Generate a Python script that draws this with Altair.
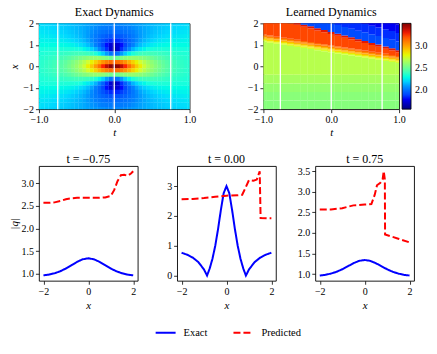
import altair as alt
import pandas as pd

FONT = "Liberation Serif"

# ---------------- exact field ----------------
# |q| of the exact solution read for |t| = 0.00..1.00 step 0.05 (rows)
# and |x| = 0.0..2.0 step 0.2 (cols); the field is symmetric in t and in x.
T_ABS = [0.0, 0.05, 0.1, 0.15, 0.2, 0.25, 0.3, 0.35, 0.4, 0.45, 0.5,
         0.55, 0.6, 0.65, 0.7, 0.75, 0.8, 0.85, 0.9, 0.95, 1.0]
X_ABS = [0.0, 0.2, 0.4, 0.6, 0.8, 1.0, 1.2, 1.4, 1.6, 1.8, 2.0]
EXACT_QUADRANT = [
    [3.000, 2.448, 1.439, 0.639, 0.124, 0.200, 0.408, 0.548, 0.644, 0.713, 0.765],
    [2.948, 2.427, 1.461, 0.693, 0.249, 0.261, 0.429, 0.557, 0.649, 0.717, 0.767],
    [2.810, 2.365, 1.511, 0.818, 0.436, 0.383, 0.481, 0.583, 0.664, 0.726, 0.773],
    [2.624, 2.270, 1.562, 0.959, 0.612, 0.514, 0.552, 0.622, 0.687, 0.740, 0.782],
    [2.424, 2.157, 1.594, 1.081, 0.764, 0.638, 0.631, 0.669, 0.716, 0.758, 0.794],
    [2.236, 2.038, 1.600, 1.174, 0.886, 0.745, 0.707, 0.719, 0.748, 0.780, 0.809],
    [2.068, 1.923, 1.587, 1.238, 0.981, 0.836, 0.778, 0.769, 0.782, 0.803, 0.825],
    [1.924, 1.817, 1.559, 1.276, 1.051, 0.910, 0.840, 0.815, 0.816, 0.827, 0.842],
    [1.802, 1.722, 1.525, 1.295, 1.102, 0.969, 0.893, 0.858, 0.848, 0.851, 0.860],
    [1.699, 1.639, 1.487, 1.302, 1.136, 1.014, 0.937, 0.896, 0.878, 0.874, 0.878],
    [1.612, 1.567, 1.448, 1.299, 1.158, 1.048, 0.974, 0.929, 0.905, 0.896, 0.895],
    [1.539, 1.504, 1.411, 1.290, 1.171, 1.073, 1.002, 0.956, 0.930, 0.916, 0.911],
    [1.478, 1.450, 1.376, 1.278, 1.178, 1.091, 1.025, 0.979, 0.950, 0.934, 0.926],
    [1.425, 1.403, 1.345, 1.264, 1.179, 1.104, 1.043, 0.999, 0.969, 0.950, 0.940],
    [1.380, 1.363, 1.315, 1.249, 1.177, 1.111, 1.056, 1.014, 0.985, 0.965, 0.952],
    [1.342, 1.328, 1.289, 1.234, 1.173, 1.116, 1.066, 1.027, 0.998, 0.977, 0.964],
    [1.308, 1.297, 1.265, 1.220, 1.168, 1.118, 1.073, 1.037, 1.009, 0.988, 0.974],
    [1.279, 1.270, 1.244, 1.206, 1.162, 1.118, 1.078, 1.044, 1.018, 0.998, 0.983],
    [1.254, 1.246, 1.225, 1.193, 1.155, 1.117, 1.081, 1.050, 1.025, 1.005, 0.991],
    [1.232, 1.226, 1.207, 1.180, 1.148, 1.115, 1.083, 1.055, 1.031, 1.012, 0.998],
    [1.213, 1.207, 1.192, 1.169, 1.141, 1.112, 1.083, 1.058, 1.036, 1.018, 1.004],
]

# ---------------- learned field ----------------
T_GRID = [-1.0, -0.9, -0.8, -0.7, -0.6, -0.5, -0.4, -0.3, -0.2, -0.1, 0.0,
          0.1, 0.2, 0.3, 0.4, 0.5, 0.6, 0.7, 0.8, 0.9, 1.0]
# XR = x where the prediction climbs through 3.0, XB = x where it drops to the blue level
LEARNED_XR = [1.35, 1.30, 1.25, 1.20, 1.15, 1.10, 1.05, 1.00, 0.95, 0.90, 0.85,
              0.80, 0.75, 0.70, 0.65, 0.60, 0.55, 0.50, 0.45, 0.40, 0.35]
LEARNED_XB = [2.45, 2.36, 2.28, 2.19, 2.11, 2.03, 1.94, 1.86, 1.77, 1.69, 1.60,
              1.52, 1.43, 1.35, 1.26, 1.18, 1.09, 1.01, 0.92, 0.84, 0.75]
LOW_EDGES = [-2.0, -1.6, -1.2, -0.8, -0.4]
LOW_VALUES = [2.57, 2.58, 2.61, 2.65, 2.69]
RAMP_EDGES = [-0.2, -0.13, -0.07, 0.0, 0.07, 0.13]
RAMP_VALUES = [2.76, 2.86, 2.95, 3.06, 3.15]
RED_VALUE = 3.22
CREST_WIDTH = 0.1
CREST_VALUE = 3.32
BLUE_EDGES = [0.0, 0.4, 0.8, 1.2, 3.0]
BLUE_VALUES = [1.92, 1.86, 1.80, 1.75]

CUT_T = [-0.75, 0.0, 0.75]

# ---------------- slices ----------------
SERIES = ["Exact", "Predicted"]

X_075 = [-2.0, -1.75, -1.5, -1.25, -1.0, -0.75, -0.5, -0.25, 0.0,
         0.25, 0.5, 0.75, 1.0, 1.25, 1.5, 1.75, 2.0]
EXACT_075 = [0.964, 0.981, 1.011, 1.055, 1.116, 1.189, 1.263, 1.320, 1.342,
             1.320, 1.263, 1.189, 1.116, 1.055, 1.011, 0.981, 0.964]

X_000 = [-2.0, -1.75, -1.5, -1.25, -1.0, -0.866, -0.75, -0.625, -0.5, -0.375, -0.25, -0.125, 0.0,
         0.125, 0.25, 0.375, 0.5, 0.625, 0.75, 0.866, 1.0, 1.25, 1.5, 1.75, 2.0]
EXACT_000 = [0.765, 0.698, 0.600, 0.448, 0.200, 0.000, 0.231, 0.561, 1.000, 1.560, 2.200, 2.765, 3.000,
             2.765, 2.200, 1.560, 1.000, 0.561, 0.231, 0.000, 0.200, 0.448, 0.600, 0.698, 0.765]

PRED_M075_X = [-2.0, -1.75, -1.5, -1.25, -1.0, -0.75, -0.5, -0.25, 0.0, 0.25, 0.5, 0.75,
               1.0, 1.15, 1.3, 1.45, 1.6, 1.75, 1.9, 2.0]
PRED_M075 = [2.57, 2.57, 2.58, 2.61, 2.65, 2.67, 2.68, 2.68, 2.68, 2.68, 2.68, 2.69,
             2.72, 2.85, 3.05, 3.18, 3.19, 3.17, 3.22, 3.27]

PRED_000_X = [-2.0, -1.5, -1.0, -0.5, 0.0, 0.5, 0.7, 0.85, 1.0, 1.2, 1.35, 1.48, 1.52, 1.8, 2.0]
PRED_000 = [2.56, 2.57, 2.60, 2.64, 2.68, 2.69, 2.71, 2.95, 3.20, 3.18, 3.22, 3.50, 1.93, 1.92, 1.92]

PRED_P075_X = [-2.0, -1.5, -1.0, -0.5, 0.0, 0.3, 0.45, 0.55, 0.7, 0.8, 0.85, 0.9, 0.91, 1.5, 2.0]
PRED_P075 = [2.57, 2.57, 2.60, 2.67, 2.69, 2.70, 2.93, 3.16, 3.22, 3.30, 3.50, 3.30, 1.96, 1.86, 1.77]

JET = ["#000080", "#0000ff", "#0080ff", "#14ffe2", "#7cff85",
       "#e2ff14", "#ff9700", "#ff2100", "#800000"]


def stops(lo, hi, n):
    return [lo + (hi - lo) * k / (n - 1) for k in range(n)]


# exact table: mirror the read quadrant into all four quadrants
exact_rows = []
for ti, ta in enumerate(T_ABS):
    for xi, xa in enumerate(X_ABS):
        v = EXACT_QUADRANT[ti][xi]
        for st in ([1] if ta == 0 else [-1, 1]):
            for sx in ([1] if xa == 0 else [-1, 1]):
                t, x = st * ta, sx * xa
                exact_rows.append({"t0": t - 0.027, "t1": t + 0.027,
                                   "x0": x - 0.105, "x1": x + 0.105, "v": v})
exact_df = pd.DataFrame(exact_rows)

# learned table: per t column, one cell per x band
learned_rows = []
for t, xr, xb in zip(T_GRID, LEARNED_XR, LEARNED_XB):
    bands = []
    low_top = xr + RAMP_EDGES[0]
    for k, v in enumerate(LOW_VALUES):
        a = LOW_EDGES[k]
        b = LOW_EDGES[k + 1] if k + 1 < len(LOW_EDGES) else low_top
        bands.append((a, min(b, low_top), v))
    for k, v in enumerate(RAMP_VALUES):
        bands.append((xr + RAMP_EDGES[k], xr + RAMP_EDGES[k + 1], v))
    bands.append((xr + RAMP_EDGES[-1], xb - CREST_WIDTH, RED_VALUE))
    bands.append((xb - CREST_WIDTH, xb, CREST_VALUE))
    for k, v in enumerate(BLUE_VALUES):
        bands.append((xb + BLUE_EDGES[k], xb + BLUE_EDGES[k + 1], v))
    for a, b, v in bands:
        if b > a and a < 2.0:
            learned_rows.append({"t0": t - 0.052, "t1": t + 0.052, "x0": a, "x1": b, "v": v})
learned_df = pd.DataFrame(learned_rows)
cuts_df = pd.DataFrame({"t": CUT_T})

TOP_H = 86
BOT_H = 115


def heat(df, title, width, cscale, legend, ytitle):
    rect = alt.Chart(df).mark_rect(clip=True).encode(
        x=alt.X("t0:Q", scale=alt.Scale(domain=[-1, 1], nice=False, zero=False),
                axis=alt.Axis(title="t", values=[-1, -0.5, 0, 0.5, 1], format=".1f", titlePadding=2)),
        x2="t1:Q",
        y=alt.Y("x0:Q", scale=alt.Scale(domain=[-2, 2], nice=False, zero=False),
                axis=alt.Axis(title=ytitle, values=[-2, -1, 0, 1, 2], format="d",
                              titleX=-24, titleY=TOP_H / 2, titleBaseline="middle")),
        y2="x1:Q",
        color=alt.Color("v:Q", scale=cscale, legend=legend),
    )
    rules = alt.Chart(cuts_df).mark_rule(color="white", strokeWidth=1.3).encode(x="t:Q")
    return alt.layer(rect, rules).properties(
        width=width, height=TOP_H, title=alt.TitleParams(title, offset=-1))


exact_scale = alt.Scale(domain=stops(0.0, 3.0, 9), range=JET)
learned_scale = alt.Scale(domain=stops(1.58, 3.51, 9), range=JET)
cbar = alt.Legend(orient="right", title=None, values=[2.0, 2.5, 3.0], format=".1f",
                  gradientLength=TOP_H, gradientThickness=9, offset=3, padding=0,
                  gradientStrokeColor="black", gradientStrokeWidth=0.8,
                  labelOffset=4, labelOverlap=False, labelFontSize=10)

h1 = heat(exact_df, "Exact Dynamics", 151, exact_scale, None, "x")
h2 = heat(learned_df, "Learned Dynamics", 136, learned_scale, cbar, None)

LEG = alt.Legend(title=None, orient="none", legendX=116, legendY=156, direction="horizontal",
                 symbolType="stroke", symbolSize=400, symbolStrokeWidth=2,
                 columnPadding=22, labelOffset=7, padding=0, labelFontSize=10.5)


def panel(ex_x, ex_y, pr_x, pr_y, title, ydom, yvals, yfmt, ytitle):
    rows = []
    for k, (x, q) in enumerate(zip(ex_x, ex_y)):
        rows.append({"series": "Exact", "x": x, "q": q, "i": k})
    for k, (x, q) in enumerate(zip(pr_x, pr_y)):
        rows.append({"series": "Predicted", "x": x, "q": q, "i": k})
    df = pd.DataFrame(rows)
    return alt.Chart(df).mark_line(strokeWidth=2, clip=True).encode(
        x=alt.X("x:Q", scale=alt.Scale(domain=[-2.2, 2.2], nice=False, zero=False),
                axis=alt.Axis(title="x", values=[-2, 0, 2], format="d", titlePadding=3)),
        y=alt.Y("q:Q", scale=alt.Scale(domain=ydom, nice=False, zero=False),
                axis=alt.Axis(title=ytitle, values=yvals, format=yfmt,
                              titleX=-24, titleY=BOT_H / 2, titleBaseline="middle")),
        color=alt.Color("series:N", scale=alt.Scale(domain=SERIES, range=["#0000ff", "#ff0000"]), legend=LEG),
        strokeDash=alt.StrokeDash("series:N", scale=alt.Scale(domain=SERIES, range=[[1, 0], [7, 3]]), legend=LEG),
        order="i:Q",
    ).properties(width=99, height=BOT_H, title=alt.TitleParams(title, offset=0))


p1 = panel(X_075, EXACT_075, PRED_M075_X, PRED_M075, "t = \u22120.75",
           [0.845, 3.385], [1.0, 1.5, 2.0, 2.5, 3.0], ".1f", "|q|")
p2 = panel(X_000, EXACT_000, PRED_000_X, PRED_000, "t = 0.00",
           [-0.175, 3.675], [0, 1, 2, 3], "d", None)
p3 = panel(X_075, EXACT_075, PRED_P075_X, PRED_P075, "t = 0.75",
           [0.837, 3.627], [1.0, 1.5, 2.0, 2.5, 3.0, 3.5], ".1f", None)

top = alt.hconcat(h1, h2, spacing=74, bounds="flush").resolve_scale(color="independent")
bottom = alt.hconcat(p1, p2, p3, spacing=39.5, bounds="flush")

chart = alt.vconcat(top, bottom, spacing=14).resolve_scale(
    color="independent", strokeDash="independent"
).properties(
    padding={"left": 0, "top": -3, "right": 0, "bottom": 0}
).configure_view(
    stroke="black", strokeWidth=0.9
).configure_axis(
    labelFont=FONT, labelFontSize=10, labelColor="black",
    titleFont=FONT, titleFontSize=11, titleFontStyle="italic", titleFontWeight="normal",
    titleColor="black", tickColor="black", tickSize=3.5, tickWidth=0.8,
    domain=False, grid=False, labelPadding=2, titlePadding=4,
    labelFlush=False, labelOverlap=False,
).configure_title(
    font=FONT, fontSize=12, fontWeight="normal", color="black"
).configure_legend(
    labelFont=FONT, labelColor="black"
)

chart.save("out.html", embed_options={"renderer": "svg", "actions": False})
